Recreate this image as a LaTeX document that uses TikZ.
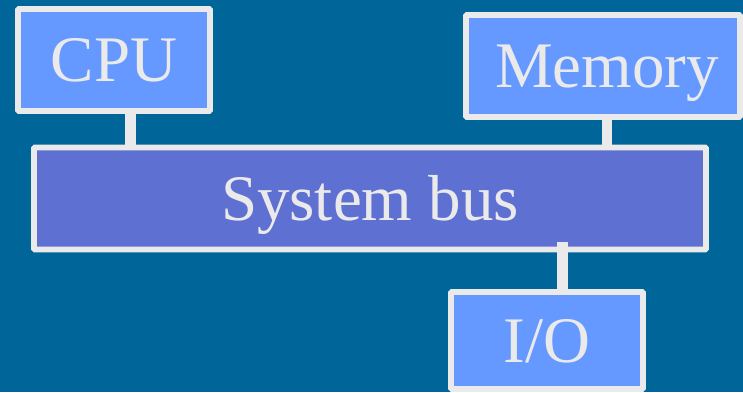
\documentclass[tikz,border=0pt]{standalone}
\usepackage{fontspec}
\setmainfont{Liberation Serif}
\definecolor{bgblue}{HTML}{006699}
\definecolor{boxblue}{HTML}{6699FF}
\definecolor{busblue}{HTML}{5F70D3}
\definecolor{edgegray}{HTML}{EAEAEA}
\tikzset{
  unitbox/.style={draw=edgegray, line width=5.7pt, rounded corners=1pt, inner sep=0pt,
    text=edgegray, font=\fontsize{65pt}{70pt}\selectfont, text height=43pt, text depth=0pt},
  wire/.style={draw=edgegray, line width=10.7pt}
}
\begin{document}
\begin{tikzpicture}[x=1pt,y=1pt]
  \useasboundingbox (0,0) rectangle (743,392);
  \fill[bgblue] (0,0) rectangle (743,392);
  \node[unitbox, fill=boxblue, minimum width=192pt, minimum height=102pt] (cpu) at (114,332) {CPU};
  \node[unitbox, fill=boxblue, minimum width=274pt, minimum height=102pt] (mem) at (603,326) {\hspace{8pt}Memory};
  \node[unitbox, fill=busblue, minimum width=672pt, minimum height=102pt] (bus) at (370,193.5) {System bus};
  \node[unitbox, fill=boxblue, minimum width=192pt, minimum height=97pt] (io) at (547,51.5) {I/O};
  \coordinate (cpux) at (130.7,0);
  \coordinate (memx) at (607,0);
  \coordinate (iotop) at (562.5,150);
  \draw[wire] (cpu.south -| cpux) -- (bus.north -| cpux);
  \draw[wire] (mem.south -| memx) -- (bus.north -| memx);
  \draw[wire] (iotop) -- (io.north -| iotop);
\end{tikzpicture}
\end{document}
